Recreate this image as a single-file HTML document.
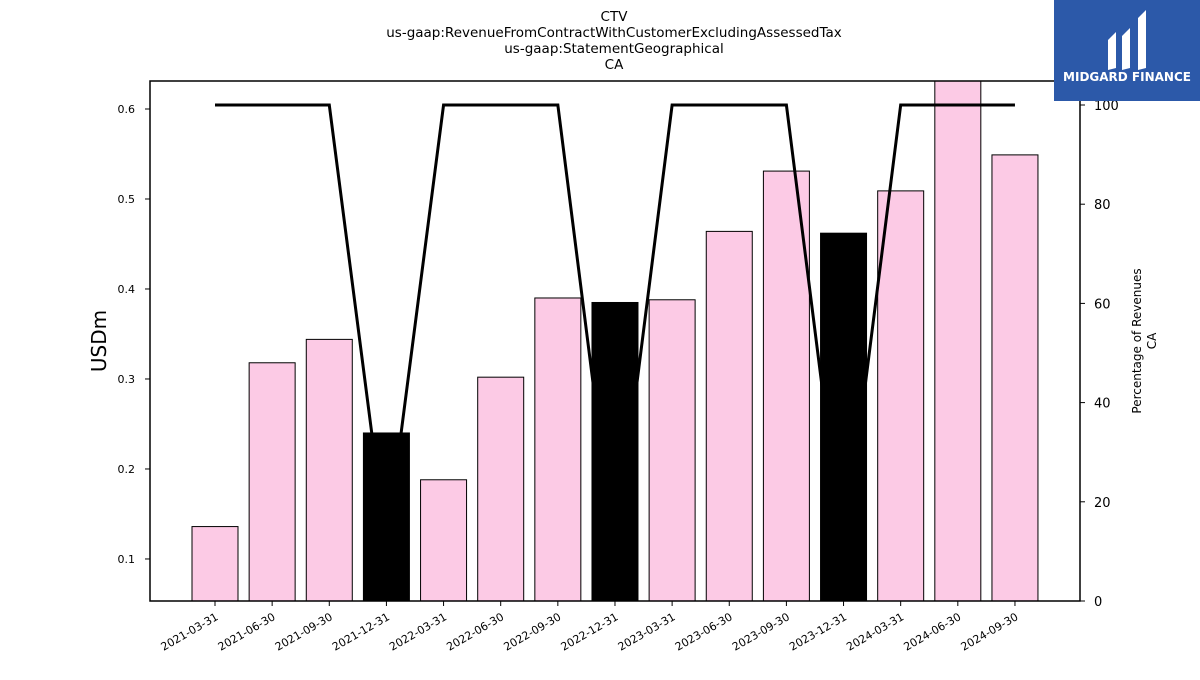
<!DOCTYPE html>
<html><head><meta charset="utf-8"><style>
body{margin:0;background:#fff;font-family:"Liberation Sans","DejaVu Sans",sans-serif}
svg text{font-family:"DejaVu Sans","Liberation Sans",sans-serif}
</style></head><body>
<svg width="1200" height="675" xmlns="http://www.w3.org/2000/svg">
<g font-size="13.5" text-anchor="middle" fill="#000">
<text x="614" y="21">CTV</text>
<text x="614" y="37">us-gaap:RevenueFromContractWithCustomerExcludingAssessedTax</text>
<text x="614" y="53">us-gaap:StatementGeographical</text>
<text x="614" y="69">CA</text>
</g>
<g id="bars"></g>
<g id="line"></g>
<rect x="150" y="81" width="930" height="520" fill="none" stroke="#000" stroke-width="1.5"/>
<g id="axes"></g>
<text x="106" y="341" font-size="20" text-anchor="middle" transform="rotate(-90 106 341)">USDm</text>
<g font-size="12" text-anchor="middle">
<text x="1141" y="341" transform="rotate(-90 1141 341)">Percentage of Revenues</text>
<text x="1156" y="341" transform="rotate(-90 1156 341)">CA</text>
</g>
<g>
<rect x="1054" y="0" width="146" height="101" fill="#2c59a9"/>
<path d="M1108 40 L1116 32 L1116 68 L1108 70 Z M1122 36 L1130 28 L1130 68 L1122 70 Z M1138 18 L1146 10 L1146 68 L1138 70 Z" fill="#fff"/>
<text x="1127" y="81" font-size="12" font-weight="bold" fill="#fff" text-anchor="middle">MIDGARD FINANCE</text>
</g>
</svg>
<script>
const categories=["2021-03-31","2021-06-30","2021-09-30","2021-12-31","2022-03-31","2022-06-30","2022-09-30","2022-12-31","2023-03-31","2023-06-30","2023-09-30","2023-12-31","2024-03-31","2024-06-30","2024-09-30"];
const revenue=[0.136,0.318,0.344,0.240,0.188,0.302,0.390,0.385,0.388,0.464,0.531,0.462,0.509,0.64,0.549];
const pct=[100,100,100,11,100,100,100,9,100,100,100,9,100,100,100];
const yTicks=[0.1,0.2,0.3,0.4,0.5,0.6];
const y2Ticks=[0,20,40,60,80,100];
const NS="http://www.w3.org/2000/svg";
const X0=150,X1=1080,YT=81,YB=601;
const yMin=0.0533,yMax=0.6311;
const y=v=>YB-(v-yMin)/(yMax-yMin)*(YB-YT);
const y2=v=>YB-v*4.96;
const step=(X1-X0)/(categories.length+1.275);
const x=i=>215+i*57.14;
const bars=document.getElementById('bars');
const mk=(t,a,p)=>{const e=document.createElementNS(NS,t);for(const k in a)e.setAttribute(k,a[k]);p.appendChild(e);return e;};
revenue.forEach((v,i)=>{
 const top=Math.max(y(v),YT);
 const r=mk('rect',{x:x(i)-23,y:top,width:46,height:YB-top,fill:categories[i].endsWith('12-31')?'#000':'#fccae5',stroke:'#000','stroke-width':1},bars);
 
 
});
const pl=mk('polyline',{points:pct.map((v,i)=>x(i)+','+y2(v)).join(' '),fill:'none',stroke:'#000','stroke-width':3,'stroke-linejoin':'miter'},document.getElementById('line'));


const ax=document.getElementById('axes');
yTicks.forEach(t=>{
 mk('line',{x1:X0-5,x2:X0,y1:y(t),y2:y(t),stroke:'#000'},ax);
 const tx=mk('text',{x:X0-15,y:y(t)+4,'font-size':11,'text-anchor':'end'},ax);tx.textContent=t.toFixed(1);
 
 
});
y2Ticks.forEach(t=>{
 mk('line',{x1:X1,x2:X1+5,y1:y2(t),y2:y2(t),stroke:'#000'},ax);
 const tx=mk('text',{x:X1+14,y:y2(t)+5,'font-size':13},ax);tx.textContent=t;
 
 
});
categories.forEach((c,i)=>{
 mk('line',{x1:x(i),x2:x(i),y1:YB,y2:YB+5,stroke:'#000'},ax);
 const tx=mk('text',{x:x(i)+4,y:YB+18,'font-size':11,'text-anchor':'end',transform:`rotate(-30 ${x(i)+4} ${YB+18})`},ax);tx.textContent=c;
 
 
});
</script>
</body></html>
